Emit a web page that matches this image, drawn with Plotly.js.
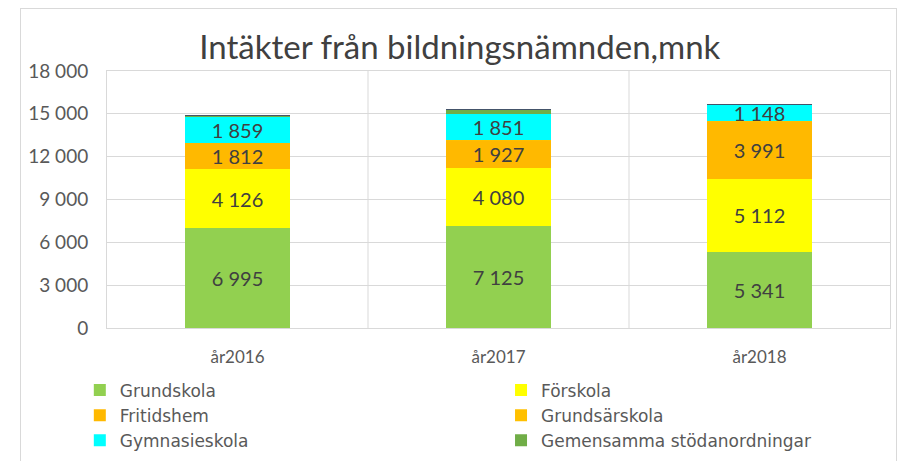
<!DOCTYPE html>
<html>
<head>
<meta charset="utf-8">
<script src="https://cdn.plot.ly/plotly-3.0.1.min.js"></script>
<style>
  html, body { margin: 0; padding: 0; background: #fff; }
  #wrap { position: relative; width: 907px; height: 461px; }
  #chart { width: 907px; height: 461px; }
  #frame { position: absolute; left: 20px; top: 8px; width: 877px; height: 470px; border: 1px solid #D9D9D9; pointer-events: none; box-sizing: border-box; }
</style>
</head>
<body>
<div id="wrap">
  <div id="chart"></div>
  <div id="frame"></div>
</div>
<script>
const years = ["år2016", "år2017", "år2018"];
const grundskola = [6995, 7125, 5341];
const forskola = [4126, 4080, 5112];
const fritidshem = [1812, 1927, 3991];
const grundsarskola = [20, 20, 20];
const gymnasieskola = [1859, 1851, 1148];
const gemensamma = [40, 260, 40];
const ovrigt = [60, 70, 70];

const FONT = "Lato, 'Open Sans', sans-serif";
const LEGEND_FONT = "'DejaVu Sans', sans-serif";
const labelFont = { family: FONT, size: 20, color: "#404040" };

function barTrace(name, values, color, labelled, legendId, showlegend) {
  return {
    type: "bar",
    name: name,
    x: years,
    y: values,
    marker: { color: color, line: { width: 0 } },
    width: 0.4,
    texttemplate: labelled ? "%{y:,d}" : "",
    textposition: labelled ? "inside" : "none",
    insidetextanchor: "middle",
    textangle: 0,
    insidetextfont: labelFont,
    constraintext: "none",
    cliponaxis: false,
    legend: legendId,
    showlegend: showlegend,
    hoverinfo: "x+y+name"
  };
}

const data = [
  barTrace("Grundskola", grundskola, "#92D050", true, "legend", true),
  barTrace("Förskola", forskola, "#FFFF00", true, "legend2", true),
  barTrace("Fritidshem", fritidshem, "#FFB900", true, "legend", true),
  barTrace("Grundsärskola", grundsarskola, "#FFC000", false, "legend2", true),
  barTrace("Gymnasieskola", gymnasieskola, "#00FFFF", true, "legend", true),
  barTrace("Gemensamma stödanordningar", gemensamma, "#70AD47", false, "legend2", true),
  barTrace("Övrigt", ovrigt, "#44546A", false, "legend", false)
];

const gridColor = "#D9D9D9";
function legendBox(xc) {
  return {
    orientation: "h",
    traceorder: "normal",
    xref: "container", x: xc, xanchor: "left",
    yref: "container", y: 0.192, yanchor: "top",
    entrywidth: 354, entrywidthmode: "pixels",
    itemwidth: 30,
    bgcolor: "rgba(0,0,0,0)",
    font: { family: LEGEND_FONT, size: 17, color: "#595959" },
    tracegroupgap: 0
  };
}

const layout = {
  width: 907,
  height: 461,
  margin: { l: 107, r: 17, t: 71, b: 133 },
  paper_bgcolor: "#FFFFFF",
  plot_bgcolor: "#FFFFFF",
  separators: ", ",
  barmode: "stack",
  uniformtext: { mode: "show", minsize: 20 },
  font: { family: FONT, color: "#595959" },
  title: {
    text: "Intäkter från bildningsnämnden,mnk",
    font: { family: FONT, size: 33, color: "#404040" },
    xref: "container", x: 0.507, xanchor: "center",
    yref: "container", y: 0.898, yanchor: "middle"
  },
  xaxis: {
    type: "category",
    showgrid: false,
    showline: true, linecolor: gridColor, linewidth: 1, mirror: true,
    ticks: "",
    tickfont: { size: 17, color: "#595959" },
    ticklabelstandoff: 14,
    automargin: false
  },
  yaxis: {
    range: [0, 18000],
    dtick: 3000,
    tickformat: ",d",
    showgrid: true, gridcolor: gridColor, gridwidth: 1,
    showline: true, linecolor: gridColor, linewidth: 1, mirror: true,
    zeroline: false,
    ticks: "",
    tickfont: { size: 19, color: "#595959" },
    ticklabelstandoff: 14,
    automargin: false
  },
  shapes: [0.5, 1.5].map(function (xv) {
    return { type: "line", xref: "x", yref: "paper", x0: xv, x1: xv, y0: 0, y1: 1,
             line: { color: gridColor, width: 1 }, layer: "below" };
  }),
  legend: legendBox(0.088),
  legend2: legendBox(0.5524),
  showlegend: true
};

Plotly.newPlot("chart", data, layout, { displayModeBar: false, staticPlot: true });
</script>
</body>
</html>
